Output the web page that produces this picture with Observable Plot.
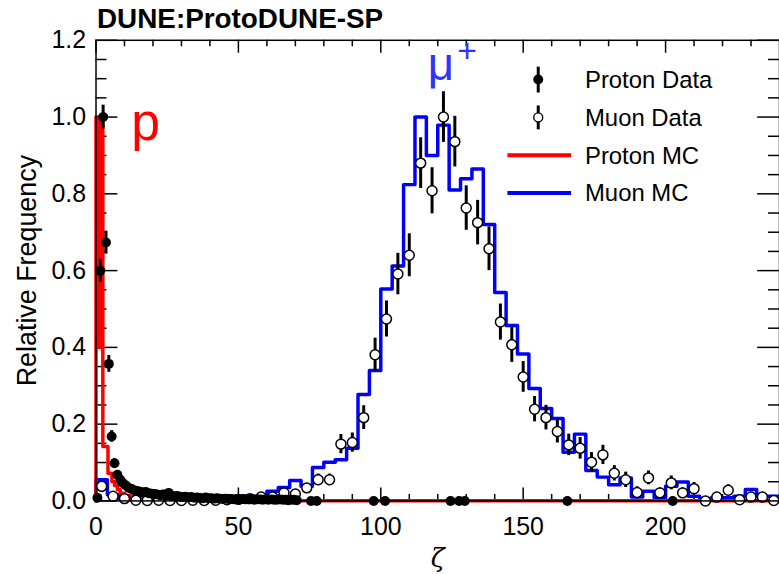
<!DOCTYPE html>
<html><head><meta charset="utf-8">
<script src="https://cdn.jsdelivr.net/npm/d3@7"></script>
<script src="https://cdn.jsdelivr.net/npm/@observablehq/plot@0.6"></script>
<style>
html,body{margin:0;padding:0;background:#fff;overflow:hidden;width:779px;height:574px}
#chart{position:relative;width:779px;height:574px;overflow:hidden}
svg{display:block}
</style></head><body><div id="chart"></div>
<script>
// ---- data ----
const xMajorTicks = [0, 50, 100, 150, 200];
const xMinorTicks = [10,20,30,40,60,70,80,90,110,120,130,140,160,170,180,190,210,220,230];
const yMajorTicks = [0, 0.2, 0.4, 0.6, 0.8, 1.0, 1.2];
const yMinorTicks = [0.05,0.1,0.15,0.25,0.3,0.35,0.45,0.5,0.55,0.65,0.7,0.75,0.85,0.9,0.95,1.05,1.1,1.15];

// Proton MC histogram (bin low edges / contents)
const protonMCEdges  = [0, 0.8, 1.6, 2.4, 4.2, 5.6, 6.5, 7.5, 8.5, 10, 12, 15, 20, 30, 50];
const protonMCValues = [1.0, 0.40, 1.0, 0.142, 0.072, 0.05, 0.04, 0.03, 0.02, 0.014, 0.01, 0.006, 0.003, 0.0015, 0.0005];

// Muon MC histogram (bin low edges / contents)
const muonMCEdges = [0,4,8,12,16,20,24,28,32,36,40,44,48,52,56,60,64,68,72,76,80,84,88,92,96,100,104,108,112,116,
  120,124,128,132,136,140,144,148,152,156,160,164,168,172,176,180,184,188,192,196,200,204,208,212,216,220,224,228,232,236];
const muonMCValues = [0.055,0.016,0.006,0.004,0.003,0.003,0.003,0.002,0.002,0.002,
  0.003,0.005,0.011,0.012,0.012,0.025,0.035,0.053,0.038,0.087,
  0.101,0.107,0.137,0.277,0.34,0.552,0.612,0.824,1.0,0.90,
  0.979,0.81,0.839,0.865,0.72,0.543,0.457,0.383,0.293,0.241,
  0.215,0.127,0.174,0.079,0.062,0.042,0.06,0.01,0.025,0.008,
  0.038,0.049,0.012,0.006,0.008,0.008,0.012,0.03,0.012,0.012];
const histEnd = 240;

// Muon data (bin centres / contents / errors)
const muonDataX = [2,6,10,14,18,22,26,30,34,38,42,46,50,54,58,62,66,70,74,78,82,86,90,94,98,102,106,110,114,118,
  122,126,130,134,138,142,146,150,154,158,162,166,170,174,178,182,186,190,194,198,202,206,210,214,218,222,226,230,234,238];
const muonDataY = [0.038,0.012,0.006,0.002,0.001,0.002,0.001,0.001,0.002,0.001,
  0.002,0.003,0.004,0.006,0.01,0.01,0.021,0.018,0.034,0.055,
  0.055,0.148,0.152,0.217,0.381,0.474,0.591,0.64,0.88,0.808,
  1.0,0.936,0.763,0.725,0.657,0.466,0.407,0.323,0.239,0.217,
  0.181,0.146,0.137,0.101,0.12,0.072,0.055,0.022,0.06,0.021,
  0.047,0.021,0.032,0.0,0.01,0.028,0.003,0.01,0.01,0.001];
const muonDataErr = [0.012,0.006,0.004,0.002,0.002,0.002,0.002,0.002,0.002,0.002,
  0.003,0.003,0.003,0.003,0.005,0.005,0.008,0.007,0.011,0.015,
  0.015,0.025,0.025,0.031,0.043,0.047,0.054,0.056,0.066,0.06,
  0.066,0.066,0.058,0.058,0.057,0.047,0.046,0.04,0.033,0.032,
  0.03,0.028,0.028,0.025,0.025,0.02,0.02,0.015,0.018,0.013,
  0.018,0.013,0.016,0.003,0.008,0.014,0.004,0.008,0.008,0.003];

// Proton data (bin centres / contents / errors)
const protonDataX = [0.5,1.5,2.5,3.5,4.5,5.5,6.5,7.5,8.5,9.5,10.5,11.5,12.5,13.5,14.5,15.5,16.5,17.5,18.5,19.5,
  20.5,21.5,22.5,23.5,24.5,25.5,26.5,27.5,28.5,29.5,30.5,31.5,32.5,33.5,34.5,35.5,36.5,37.5,38.5,39.5,
  40.5,41.5,42.5,43.5,44.5,45.5,46.5,47.5,48.5,49.5,50.5,51.5,52.5,53.5,54.5,55.5,56.5,57.5,58.5,59.5,
  60.5,61.5,62.5,63.5,64.5,65.5,66.5,67.5,68.5,69.5,70.5,
  75.5,77.5,97.5,101.5,124.5,127.5,129.5,165.5,202.5];
const protonDataY = [0.008,0.6,1.0,0.673,0.357,0.168,0.098,0.068,0.055,0.046,0.04,0.034,0.031,0.027,0.026,0.024,0.022,0.023,0.02,0.019,
  0.018,0.017,0.015,0.017,0.014,0.021,0.013,0.012,0.013,0.011,0.01,0.011,0.009,0.01,0.008,0.009,0.008,0.007,0.009,0.007,
  0.007,0.006,0.007,0.006,0.005,0.006,0.005,0.005,0.004,0.005,0.004,0.005,0.004,0.004,0.005,0.003,0.004,0.004,0.003,0.004,
  0.003,0.004,0.003,0.003,0.004,0.003,0.003,0.002,0.003,0.003,0.002,
  0,0,0,0,0,0,0,0,0];
const protonDataErr = [0.004,0.03,0.031,0.03,0.022,0.015,0.012,0.009,0.008,0.007,0.006,0.006,0.005,0.005,0.005,0.005,0.004,0.004,0.004,0.004,
  0.004,0.004,0.004,0.004,0.003,0.004,0.003,0.003,0.003,0.003,0.003,0.003,0.003,0.003,0.003,0.003,0.003,0.003,0.003,0.003,
  0.002,0.002,0.002,0.002,0.002,0.002,0.002,0.002,0.002,0.002,0.002,0.002,0.002,0.002,0.002,0.002,0.002,0.002,0.002,0.002,
  0.002,0.002,0.002,0.002,0.002,0.002,0.002,0.002,0.002,0.002,0.002,
  0,0,0,0,0,0,0,0,0];

const legendLabels = ["Proton Data", "Muon Data", "Proton MC", "Muon MC"];

// ---- build tables ----
function stepPoints(edges, values, end) {
  const pts = [{x: edges[0], y: 0}];
  edges.forEach((e, i) => pts.push({x: e, y: values[i]}));
  pts.push({x: end, y: values[values.length - 1]});
  return pts;
}
const protonMC = stepPoints(protonMCEdges, protonMCValues, histEnd);
const muonMC = stepPoints(muonMCEdges, muonMCValues, histEnd);
const muonData = muonDataX.map((x, i) => ({x, y: muonDataY[i], e: muonDataErr[i]}));
const protonData = protonDataX.map((x, i) => ({x, y: protonDataY[i], e: protonDataErr[i]}));

const W = 783, H = 574, ML = 96, MT = 40, MB = 71, MR = 0;
const plotW = W - ML - MR, plotH = H - MT - MB;
const FONT = "'Liberation Sans', Arial, Helvetica, sans-serif";

const chart = Plot.plot({
  width: W, height: H,
  marginLeft: ML, marginTop: MT, marginBottom: MB, marginRight: MR,
  style: {fontFamily: FONT, background: "white", overflow: "visible", color: "black"},
  x: {domain: [0, 240], axis: null},
  y: {domain: [0, 1.2], axis: null},
  marks: [
    // inward ticks, ROOT style
    Plot.ruleX(xMajorTicks, {x: d => d, insetTop: plotH - 13, stroke: "black", strokeWidth: 1.5}),
    Plot.ruleX(xMinorTicks, {x: d => d, insetTop: plotH - 6.5, stroke: "black", strokeWidth: 1.5}),
    Plot.ruleX(xMajorTicks, {x: d => d, insetBottom: plotH - 13, stroke: "black", strokeWidth: 1.5}),
    Plot.ruleX(xMinorTicks, {x: d => d, insetBottom: plotH - 6.5, stroke: "black", strokeWidth: 1.5}),
    Plot.ruleY(yMajorTicks, {y: d => d, insetRight: plotW - 22, stroke: "black", strokeWidth: 1.5}),
    Plot.ruleY(yMinorTicks, {y: d => d, insetRight: plotW - 11, stroke: "black", strokeWidth: 1.5}),
    Plot.ruleY(yMajorTicks, {y: d => d, insetLeft: plotW - 22, stroke: "black", strokeWidth: 1.5}),
    Plot.ruleY(yMinorTicks, {y: d => d, insetLeft: plotW - 11, stroke: "black", strokeWidth: 1.5}),
    // histograms
    Plot.line(muonMC, {x: "x", y: "y", curve: "step-after", stroke: "#0000ff", strokeWidth: 3.5}),
    Plot.line(protonMC, {x: "x", y: "y", curve: "step-after", stroke: "#ff0000", strokeWidth: 3.5}),
    // data
    Plot.ruleX(muonData, {x: "x", y1: d => d.y - d.e, y2: d => d.y + d.e, stroke: "black", strokeWidth: 3}),
    Plot.dot(muonData, {x: "x", y: "y", r: 5, fill: "white", stroke: "black", strokeWidth: 1.5}),
    Plot.ruleX(protonData, {x: "x", y1: d => d.y - d.e, y2: d => d.y + d.e, stroke: "black", strokeWidth: 3}),
    Plot.dot(protonData, {x: "x", y: "y", r: 5, fill: "black", stroke: "none"}),
    Plot.frame({stroke: "black", strokeWidth: 1.5}),
    // tick labels
    Plot.text(yMajorTicks, {frameAnchor: "left", y: d => d, text: d => d3.format(".1f")(d), textAnchor: "end", lineAnchor: "middle", dx: -10, fontSize: 25}),
    Plot.text(xMajorTicks, {frameAnchor: "bottom", x: d => d, text: d => String(d), textAnchor: "middle", lineAnchor: "middle", dy: 26, fontSize: 25}),
    // axis titles
    Plot.text(["Relative Frequency"], {frameAnchor: "left", text: d => d, textAnchor: "middle", lineAnchor: "middle", rotate: -90, dx: -69, fontSize: 27}),
    Plot.text(["ζ"], {frameAnchor: "bottom", text: d => d, textAnchor: "middle", lineAnchor: "middle", dy: 58, fontSize: 26, fontStyle: "italic", fontFamily: "'DejaVu Serif', serif"}),
    Plot.text(["DUNE:ProtoDUNE-SP"], {frameAnchor: "top-left", text: d => d, textAnchor: "start", lineAnchor: "middle", dx: 1, dy: -21, fontSize: 28, fontWeight: "bold"})
  ]
});
document.getElementById("chart").appendChild(chart);

// ---- legend and labels ----
const svg = d3.select(chart);
const lg = svg.append("g").attr("font-family", FONT).attr("font-size", 24).attr("text-anchor", "start");
const rowsY = [80, 118, 156, 194];
legendLabels.forEach((t, i) => {
  lg.append("text").attr("x", 588).attr("y", rowsY[i]).attr("dy", "0.35em").attr("text-anchor", "start").text(t);
});
// Proton data symbol
lg.append("line").attr("x1", 541).attr("x2", 541).attr("y1", rowsY[0] - 13).attr("y2", rowsY[0] + 13).attr("stroke", "black").attr("stroke-width", 3);
lg.append("circle").attr("cx", 541).attr("cy", rowsY[0]).attr("r", 5).attr("fill", "black");
// Muon data symbol
lg.append("line").attr("x1", 541).attr("x2", 541).attr("y1", rowsY[1] - 12).attr("y2", rowsY[1] + 12).attr("stroke", "black").attr("stroke-width", 3);
lg.append("circle").attr("cx", 541).attr("cy", rowsY[1]).attr("r", 4.5).attr("fill", "white").attr("stroke", "black").attr("stroke-width", 1.4);
// MC lines
lg.append("line").attr("x1", 510).attr("x2", 574).attr("y1", rowsY[2]).attr("y2", rowsY[2]).attr("stroke", "#ff0000").attr("stroke-width", 4);
lg.append("line").attr("x1", 510).attr("x2", 574).attr("y1", rowsY[3]).attr("y2", rowsY[3]).attr("stroke", "#0000ff").attr("stroke-width", 4);

// particle annotations
svg.append("text").attr("x", 132).attr("y", 141).attr("text-anchor", "start").attr("font-family", FONT).attr("font-size", 52).attr("fill", "#ff0000").text("p");
const mu = svg.append("text").attr("x", 430).attr("y", 80).attr("text-anchor", "start").attr("font-family", FONT).attr("font-size", 46).attr("fill", "#3333ff");
mu.append("tspan").text("μ");
mu.append("tspan").attr("font-size", 34).attr("dx", 3).attr("dy", -18).text("+");
</script></body></html>
